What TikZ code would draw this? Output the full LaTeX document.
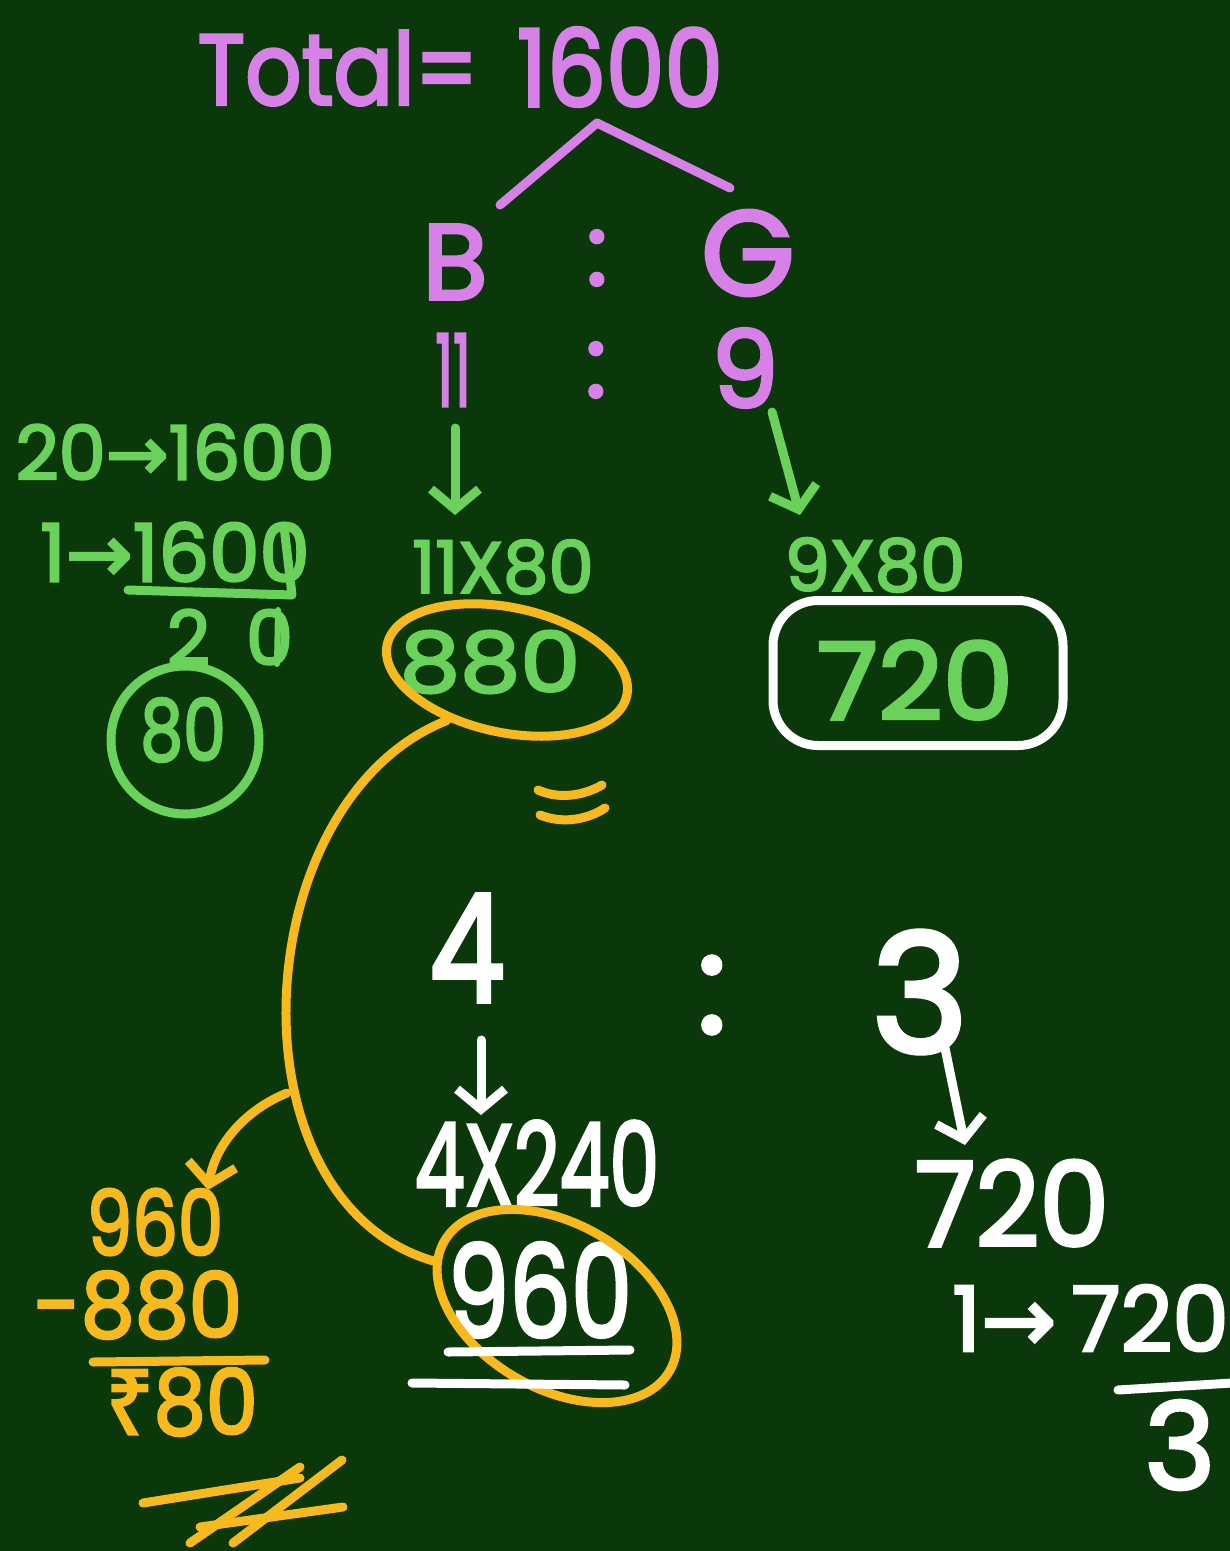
\documentclass[tikz,border=0pt]{standalone}
\usepackage{fontspec}
\setmainfont{Poppins}[FakeBold=3]
\newfontfamily\arrfont{DejaVu Sans}[FakeBold=3]
\newfontfamily\rupfont{Noto Sans}[FakeBold=3]
\usepackage{graphicx}
\usetikzlibrary{arrows.meta,shapes.geometric}
\definecolor{board}{HTML}{0A380A}
\definecolor{mag}{HTML}{D680E8}
\definecolor{grn}{HTML}{6AD25A}
\definecolor{org}{HTML}{F7B91E}
\newcommand\fz[1]{\fontsize{#1}{#1}\selectfont}
\newcommand\sx[2]{\scalebox{#1}[1]{#2}}
\begin{document}
\begin{tikzpicture}[x=1pt,y=-1pt,
  chalk/.style={line width=9pt,line cap=round,line join=round},
  tip/.style={-{Straight Barb[length=20pt,width=48pt]}},
  txt/.style={inner sep=0pt,anchor=center}]
\fill[board] (0,0) rectangle (1230,1551);
\useasboundingbox (0,0) rectangle (1230,1551);
% ---------- magenta ----------
\node[txt,text=mag] (total) at (338,68) {\fz{100}\sx{0.88}{Total=}};
\node[txt,text=mag] (n1600) at (620,67) {\fz{107}\sx{0.87}{1600}};
\coordinate (cl) at (500,205);
\coordinate (ct) at (597,123);
\coordinate (cr) at (730,188);
\draw[chalk,mag] (cl) -- (ct) -- (cr);
\node[txt,text=mag] (B) at (455,262) {\fz{107}B};
\node[txt,text=mag] (col1) at (597,258) {\fz{100}:};
\node[txt,text=mag] (G) at (748,253) {\fz{120}G};
\node[txt,text=mag] (r11) at (453,370) {\fz{100}\sx{0.55}{11}};
\node[txt,text=mag] (col2) at (596,370) {\fz{100}:};
\node[txt,text=mag] (r9) at (745,368) {\fz{107}9};
% ---------- green ----------
\coordinate (a1s) at (455,428);
\coordinate (a1e) at (455,515);
\coordinate (a2s) at (772,412);
\coordinate (a2e) at (800,515);
\draw[chalk,grn,tip] (a1s) -- (a1e);
\draw[chalk,grn,tip] (a2s) -- (a2e);
\node[txt,text=grn] (m11) at (503,567) {\fz{72}11X80};
\node[txt,text=grn] (n880) at (490,662) {\fz{83}\sx{1.15}{880}};
\node[txt,text=grn] (m9) at (875,565) {\fz{72}9X80};
\node[txt,text=grn] (n720) at (915,680) {\fz{107}\sx{1.05}{720}};
\node[chalk,draw=white,rounded corners=45pt,minimum width=290pt,minimum height=145pt] (box720) at (918,673) {};
\node[chalk,draw=org,ellipse,minimum width=245pt,minimum height=125pt,rotate=-12] (e880) at (507,670) {};
\coordinate (eq1a) at (538,790); \coordinate (eq1b) at (602,785);
\coordinate (eq2a) at (540,815); \coordinate (eq2b) at (605,808);
\draw[chalk,org] (eq1a) .. controls (560,800) and (585,795) .. (eq1b);
\draw[chalk,org] (eq2a) .. controls (565,825) and (590,818) .. (eq2b);
% left green work
\node[txt,text=grn] (l1) at (175,452) {\fz{75}20{\arrfont→}1600};
\node[txt,text=grn,anchor=west] (l2) at (40,552) {\fz{80}1{\arrfont→}1600};
\coordinate (u1) at (128,590); \coordinate (u2) at (292,595); \coordinate (u3) at (284,526);
\draw[chalk,grn] (u1) -- (u2) -- (u3);
\node[txt,text=grn] (l3) at (230,637) {\fz{75}2\hspace{36pt}0};
\coordinate (s2a) at (278,610); \coordinate (s2b) at (277,664);
\draw[chalk,grn,line width=6pt] (s2a) -- (s2b);
\node[txt,text=grn] (l80) at (183,730) {\fz{85}\sx{0.8}{80}};
\node[chalk,draw=grn,circle,minimum size=148pt] (c80) at (185,740) {};
% ---------- white lower ----------
\node[txt,text=white] (w4) at (467,948) {\fz{150}\sx{0.8}{4}};
\node[txt,text=white] (col3) at (712,995) {\fz{140}:};
\node[txt,text=white] (w3) at (920,992) {\fz{165}3};
\coordinate (a3s) at (481,1040); \coordinate (a3e) at (481,1115);
\draw[chalk,white,tip] (a3s) -- (a3e);
\node[txt,text=white] (m4) at (537,1163) {\fz{115}\sx{0.69}{4X240}};
\node[txt,text=white] (w960) at (540,1290) {\fz{128}\sx{0.76}{960}};
\node[chalk,draw=org,ellipse,minimum width=260pt,minimum height=165pt,rotate=-30] (e960) at (557,1306) {};
\coordinate (ul1a) at (448,1352); \coordinate (ul1b) at (630,1350);
\coordinate (ul2a) at (412,1383); \coordinate (ul2b) at (625,1385);
\draw[chalk,white] (ul1a) -- (ul1b);
\draw[chalk,white] (ul2a) -- (ul2b);
\coordinate (a4s) at (945,1048); \coordinate (a4e) at (965,1145);
\draw[chalk,white,tip] (a4s) -- (a4e);
\node[txt,text=white] (r720) at (1012,1203) {\fz{117}\sx{0.95}{720}};
\node[txt,text=white,anchor=west] (r1) at (952,1318) {\fz{90}1{\arrfont→}\,720};
\coordinate (rl1) at (1118,1390); \coordinate (rl2) at (1232,1383);
\draw[chalk,white] (rl1) -- (rl2);
\node[txt,text=white] (r3) at (1180,1445) {\fz{120}3};
% ---------- orange connectors & work ----------
\coordinate (ab) at (287,1093);
\draw[chalk,org] (e880.232) .. controls (245,800) and (225,1200) .. (e960.190);
\coordinate (abe) at (208,1190);
\draw[chalk,org,tip] (ab) .. controls (245,1110) and (215,1145) .. (abe);
\node[txt,text=org] (o960) at (155,1222) {\fz{90}\sx{0.8}{960}};
\node[txt,text=org] (o880) at (138,1305) {\fz{90}\sx{0.95}{-880}};
\coordinate (ol1) at (93,1362); \coordinate (ol2) at (265,1360);
\draw[chalk,org] (ol1) -- (ol2);
\node[txt,text=org] (o80) at (182,1402) {\fz{90}\sx{0.92}{{\rupfont ₹}80}};
\coordinate (m1a) at (143,1503); \coordinate (m1b) at (300,1478);
\coordinate (m2a) at (200,1527); \coordinate (m2b) at (343,1507);
\coordinate (m3a) at (300,1467); \coordinate (m3b) at (190,1543);
\coordinate (m4a) at (342,1460); \coordinate (m4b) at (233,1543);
\draw[chalk,org] (m1a) -- (m1b);
\draw[chalk,org] (m2a) -- (m2b);
\draw[chalk,org] (m3a) -- (m3b);
\draw[chalk,org] (m4a) -- (m4b);
\end{tikzpicture}
\end{document}
